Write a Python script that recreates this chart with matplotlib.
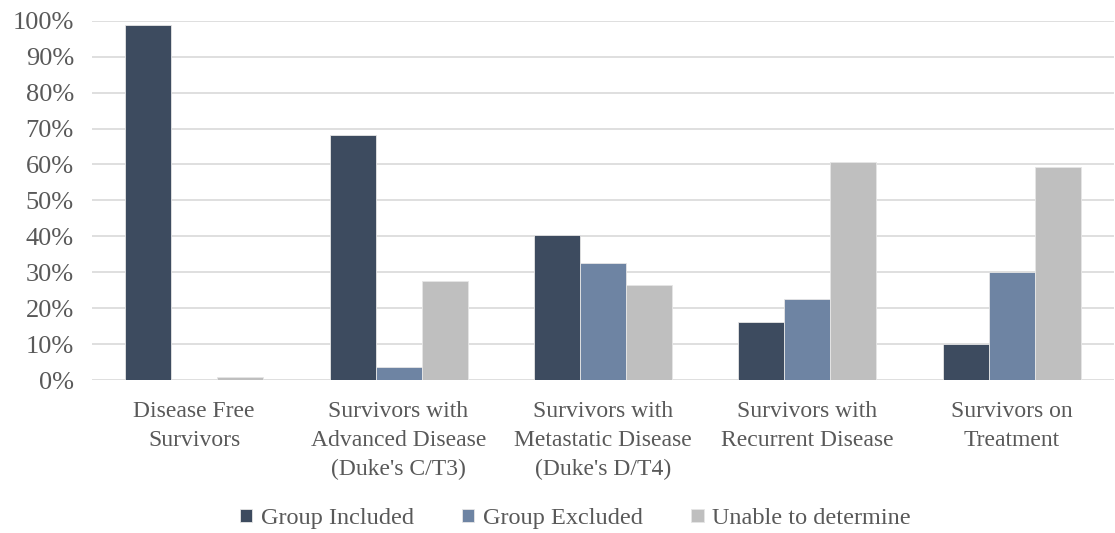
import numpy as np
from matplotlib import pyplot as plt
from matplotlib.ticker import MultipleLocator, PercentFormatter

categories = ["Disease Free\nSurvivors",
              "Survivors with\nAdvanced Disease\n(Duke's C/T3)",
              "Survivors with\nMetastatic Disease\n(Duke's D/T4)",
              "Survivors with\nRecurrent Disease",
              "Survivors on\nTreatment"]
included = [98.9, 68.3, 40.3, 16.1, 9.9]
excluded = [0.0, 3.7, 32.6, 22.6, 30.1]
unable = [0.9, 27.6, 26.4, 60.6, 59.4]

series = ["Group Included", "Group Excluded", "Unable to determine"]
colors = ["#3d4b5f", "#6e84a3", "#bfbfbf"]

plt.rcParams['font.family'] = ['Liberation Serif', 'DejaVu Serif']

fig = plt.figure(figsize=(11.15, 5.33), dpi=100)
ax = fig.add_axes([0.0825, 0.287, 0.9165, 0.674])

x = np.arange(len(categories))
w = 0.225
for i, (vals, name, c) in enumerate(zip([included, excluded, unable], series, colors)):
    ax.bar(x + (i - 1) * w, vals, w, color=c, label=name,
           edgecolor="#e6e6e6", linewidth=0.6, zorder=3)

ax.set_xlim(-0.5, len(categories) - 0.5)
ax.set_ylim(0, 100)
ax.yaxis.set_major_locator(MultipleLocator(10))
ax.yaxis.set_major_formatter(PercentFormatter(decimals=0))
ax.grid(axis="y", color="#d9d9d9", linewidth=1.2, zorder=0)
for s in ax.spines.values():
    s.set_visible(False)
ax.tick_params(axis="both", length=0, labelcolor="#595959")
ax.tick_params(axis="y", pad=13, labelsize=19)
ax.tick_params(axis="x", pad=15, labelsize=17)
ax.set_xticks(x)
ax.set_xticklabels(categories, linespacing=1.5)

fig.legend(loc="center", bbox_to_anchor=(0.516, 0.027), ncol=3, frameon=False,
           fontsize=17.5, labelcolor="#595959", handlelength=0.5, handleheight=0.5,
           handletextpad=0.35, columnspacing=2.0)

plt.savefig("out.png")
